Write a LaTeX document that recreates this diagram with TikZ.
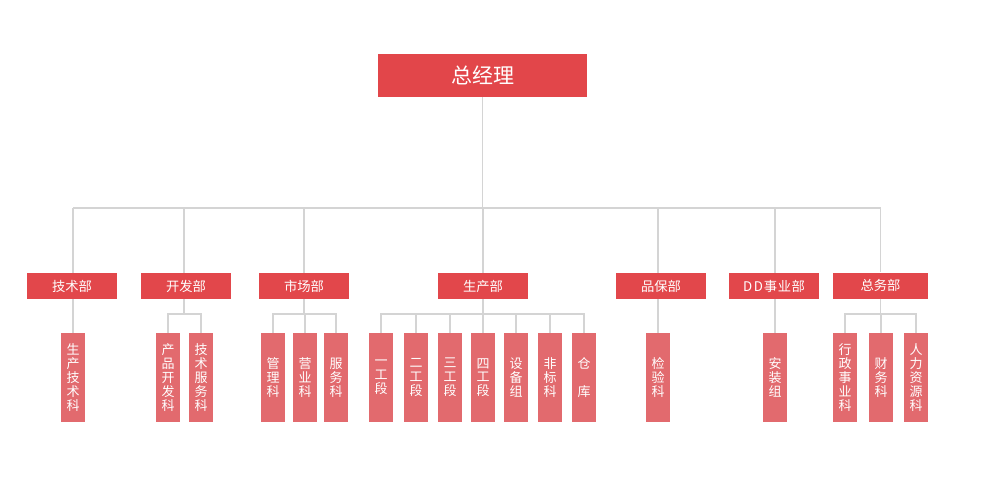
\documentclass[tikz,border=0pt]{standalone}
\usepackage{fontspec}
\newfontfamily\cjk{Noto Sans CJK SC}
\definecolor{topred}{HTML}{E2464A}
\definecolor{deptred}{HTML}{E2474B}
\definecolor{subred}{HTML}{E26A6E}
\definecolor{linegray}{HTML}{D4D4D4}
\begin{document}
\begin{tikzpicture}[x=1pt,y=-1pt,
  topbox/.style={fill=topred, text=white, minimum width=209pt, minimum height=43pt, inner sep=0pt, font=\cjk\fontsize{21}{24}\selectfont},
  deptbox/.style={fill=deptred, text=white, minimum width=90pt, minimum height=26pt, inner sep=0pt, font=\cjk\fontsize{13.3}{15}\selectfont},
  subbox/.style={fill=subred, text=white, minimum width=24pt, minimum height=89pt, inner sep=0pt, align=center, font=\cjk\fontsize{13}{13.8}\selectfont},
  link/.style={draw=linegray, line width=1.4pt}]
\useasboundingbox (0,0) rectangle (1000,484);

% top
\node[topbox] (top) at (482.5,75.5) {总经理};

% departments
\node[deptbox] (d1) at (72,286) {技术部};
\node[deptbox] (d2) at (186,286) {开发部};
\node[deptbox] (d3) at (304,286) {市场部};
\node[deptbox] (d4) at (483,286) {生产部};
\node[deptbox] (d5) at (661,286) {品保部};
\node[deptbox] (d6) at (774,286) {D\kern1.5pt D\kern1pt 事\kern0.5pt 业\kern0.5pt 部};
\node[deptbox, minimum width=95pt] (d7) at (880.5,285.5) {总务部};

% sub units
\node[subbox] (s1) at (73,377.5) {生\\产\\技\\术\\科};
\node[subbox] (s2a) at (168,377.5) {产\\品\\开\\发\\科};
\node[subbox] (s2b) at (201,377.5) {技\\术\\服\\务\\科};
\node[subbox] (s3a) at (273,377.5) {管\\理\\科};
\node[subbox] (s3b) at (305,377.5) {营\\业\\科};
\node[subbox] (s3c) at (336,377.5) {服\\务\\科};
\node[subbox] (p1) at (381,377.5) {一\\工\\段};
\node[subbox] (p2) at (416,377.5) {二\\工\\段};
\node[subbox] (p3) at (450,377.5) {三\\工\\段};
\node[subbox] (p4) at (483,377.5) {四\\工\\段};
\node[subbox] (p5) at (516,377.5) {设\\备\\组};
\node[subbox] (p6) at (550,377.5) {非\\标\\科};
\node[subbox] (p7) at (584,377.5) {仓\\\phantom{仓}\\库};
\node[subbox] (q1) at (658,377.5) {检\\验\\科};
\node[subbox] (a1) at (775,377.5) {安\\装\\组};
\node[subbox] (g1) at (845,377.5) {行\\政\\事\\业\\科};
\node[subbox] (g2) at (881,377.5) {财\\务\\科};
\node[subbox] (g3) at (916,377.5) {人\\力\\资\\源\\科};

% junctions
\coordinate (bus) at (482.5,208);
\coordinate (j2) at (184,314);
\coordinate (j3) at (304,314);
\coordinate (j4) at (483,314);
\coordinate (j7) at (880.5,314);

% top level connectors
\draw[link] (top.south) -- (bus);
\draw[link] (bus -| s1) -- (bus -| d7);
\draw[link] (bus -| s1) -- (s1 |- d1.north);
\draw[link] (bus -| j2) -- (j2 |- d2.north);
\draw[link] (bus -| d3) -- (d3.north);
\draw[link] (bus -| d4) -- (d4.north);
\draw[link] (bus -| q1) -- (q1 |- d5.north);
\draw[link] (bus -| a1) -- (a1 |- d6.north);
\draw[link] (bus -| d7) -- (d7.north);

% single children
\draw[link] (s1 |- d1.south) -- (s1.north);
\draw[link] (q1 |- d5.south) -- (q1.north);
\draw[link] (a1 |- d6.south) -- (a1.north);

% 开发部
\draw[link] (j2 |- d2.south) -- (j2);
\draw[link] (s2a.north) |- (j2) -| (s2b.north);

% 市场部
\draw[link] (d3.south) -- (j3);
\draw[link] (s3a.north) |- (j3) -| (s3c.north);
\draw[link] (s3b.north) -- (s3b.north |- j3);

% 生产部
\draw[link] (d4.south) -- (j4);
\draw[link] (p1.north) |- (j4) -| (p7.north);
\foreach \p in {p2,p3,p4,p5,p6}{
  \draw[link] (\p.north) -- (\p.north |- j4);
}

% 总务部
\draw[link] (d7.south) -- (j7);
\draw[link] (g1.north) |- (j7) -| (g3.north);
\draw[link] (g2.north) -- (g2.north |- j7);
\end{tikzpicture}
\end{document}
